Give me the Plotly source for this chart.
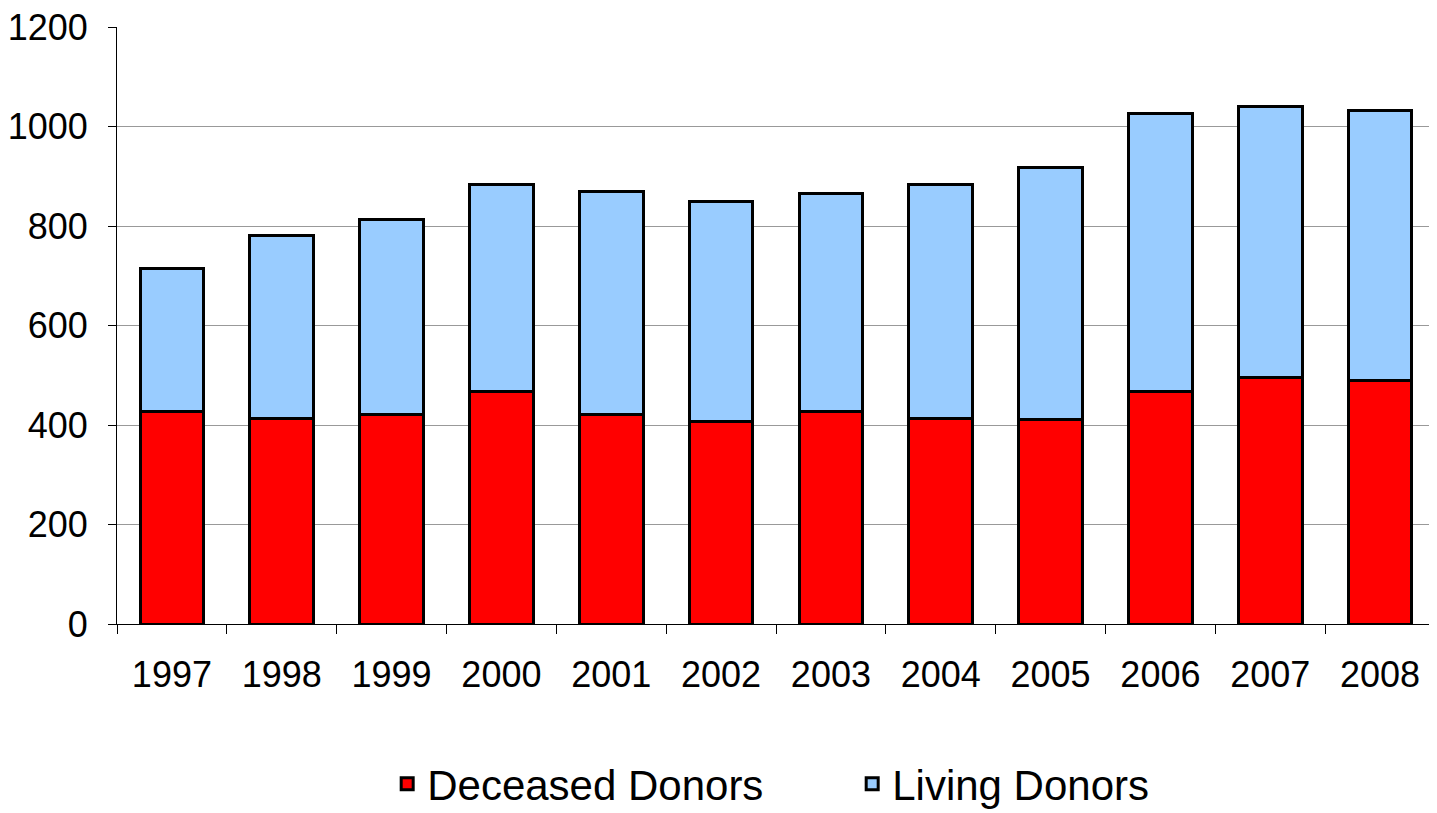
import plotly.graph_objects as go

years = ["1997", "1998", "1999", "2000", "2001", "2002", "2003", "2004", "2005", "2006", "2007", "2008"]
deceased = [427, 414, 422, 468, 421, 407, 427, 414, 411, 468, 496, 489]
living = [287, 366, 391, 416, 449, 443, 438, 470, 506, 559, 545, 544]
y_ticks = [0, 200, 400, 600, 800, 1000, 1200]

FONT = "Liberation Sans, Arial, sans-serif"

fig = go.Figure()
fig.add_trace(go.Bar(
    x=years, y=deceased, name="Deceased Donors",
    marker=dict(color="#ff0000", line=dict(color="#000000", width=3)),
))
fig.add_trace(go.Bar(
    x=years, y=living, name="Living Donors",
    marker=dict(color="#99ccff", line=dict(color="#000000", width=3)),
))

# page body has an 8px default margin, so the figure is sized to fill the window
fig.update_layout(
    barmode="stack",
    bargap=0.42,
    width=1429, height=805,
    margin=dict(l=109, r=2, t=19, b=189, autoexpand=False),
    paper_bgcolor="white", plot_bgcolor="white",
    font=dict(family=FONT, size=36, color="black"),
    showlegend=True,
    legend=dict(
        orientation="h", x=0.205, xanchor="left", y=-0.268, yanchor="middle",
        font=dict(size=42, family=FONT, color="black"),
        entrywidth=420, itemwidth=30,
        traceorder="normal",
    ),
    shapes=[dict(type="line", xref="paper", yref="paper", x0=1, x1=1, y0=0, y1=1,
                 line=dict(color="#999999", width=1))],
)
fig.update_xaxes(
    type="category", automargin=False,
    showline=True, linecolor="black", linewidth=1,
    ticks="outside", tickson="boundaries", ticklen=9, tickcolor="black",
    tickfont=dict(size=36, family=FONT, color="black"),
    ticklabelstandoff=19, ticklabeloverflow="allow",
    showgrid=False,
)
fig.update_yaxes(
    range=[0, 1200], tickvals=y_ticks, automargin=False,
    showline=True, linecolor="black", linewidth=1,
    ticks="outside", ticklen=8, tickcolor="black",
    tickfont=dict(size=36, family=FONT, color="black"),
    ticklabelstandoff=13, ticklabeloverflow="allow",
    showgrid=True, gridcolor="#999999", gridwidth=1,
    zeroline=False,
)

fig.write_html("out.html")
